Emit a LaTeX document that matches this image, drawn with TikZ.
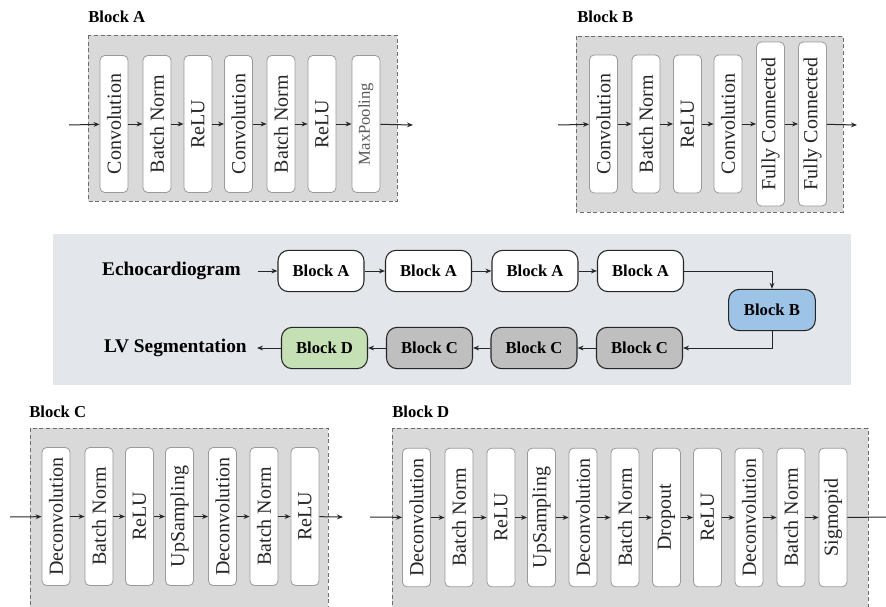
\documentclass[tikz,border=0pt]{standalone}
\usepackage{fontspec}
\setmainfont{Liberation Serif}
\usetikzlibrary{arrows.meta}
\definecolor{panel}{HTML}{E3E6EA}
\definecolor{dashfill}{HTML}{D9D9D9}
\definecolor{dashline}{HTML}{6E6E6E}
\definecolor{layerline}{HTML}{9A9A9A}
\definecolor{ink}{HTML}{262626}
\definecolor{blockB}{HTML}{9DC3E6}
\definecolor{blockC}{HTML}{BFBFBF}
\definecolor{blockD}{HTML}{C5E0B4}
\tikzset{
  arr/.style={draw=ink, line width=0.75pt, -{Stealth[length=4.5pt,width=3.6pt]}},
  dashbox/.style={fill=dashfill, draw=dashline, dashed, line width=0.7pt, dash pattern=on 3pt off 2pt},
  layer/.style={draw=layerline, fill=white, rounded corners=3.5pt, rotate=90,
    minimum height=21pt, inner sep=0pt, text=ink, line width=0.6pt,
    font=\fontsize{15}{15}\selectfont},
  title/.style={anchor=west, inner sep=0pt, font=\fontsize{12.5}{12.5}\selectfont\bfseries},
  flowblock/.style={draw=ink, line width=0.8pt, rounded corners=8pt, fill=white,
    minimum width=64.5pt, minimum height=31pt, inner sep=0pt,
    font=\fontsize{12.5}{12.5}\selectfont\bfseries},
  flowlabel/.style={anchor=east, inner sep=0pt, font=\fontsize{14.5}{14.5}\selectfont\bfseries},
}
\begin{document}
\begin{tikzpicture}[x=0.75pt, y=-0.75pt]
\useasboundingbox (0,0) rectangle (886,607);
\clip (0,0) rectangle (886,607);
\fill[white] (0,0) rectangle (886,607);

% ---------- Block A ----------
\node[title] (tA) at (88,17) {Block A};
\path[dashbox] (88,35) rectangle (397,201);
\foreach \n/\x/\t in {1/114/Convolution, 2/157/Batch Norm, 3/198/ReLU,
                      4/238.5/Convolution, 5/281/Batch Norm, 6/322/ReLU}
  \node[layer, minimum width=102.75pt] (a\n) at (\x,124) {\t};
\node[layer, minimum width=102.75pt, text=black!65, font=\fontsize{12.5}{12.5}\selectfont] (a7) at (366,124) {MaxPooling};
\coordinate (ain) at (69,125);
\coordinate (aout) at (413,125);
\draw[arr] (ain) -- (a1);
\foreach \i/\j in {1/2,2/3,3/4,4/5,5/6,6/7} \draw[arr] (a\i) -- (a\j);
\draw[arr] (a7) -- (aout);

% ---------- Block B ----------
\node[title] (tB) at (577,17) {Block B};
\path[dashbox] (576,36) rectangle (843,212);
\foreach \n/\x/\t in {1/603.5/Convolution, 2/646/Batch Norm, 3/687.5/ReLU, 4/728/Convolution}
  \node[layer, minimum width=103.5pt] (b\n) at (\x,124) {\t};
\foreach \n/\x in {5/770.5, 6/812.5}
  \node[layer, minimum width=123pt] (b\n) at (\x,124) {Fully Connected};
\coordinate (bin) at (558,125);
\coordinate (bout) at (857,125);
\draw[arr] (bin) -- (b1);
\foreach \i/\j in {1/2,2/3,3/4,4/5,5/6} \draw[arr] (b\i) -- (b\j);
\draw[arr] (b6) -- (bout);

% ---------- Overall pipeline ----------
\fill[panel] (53,234) rectangle (851,385);
\node[flowlabel] (echo) at (241,271) {Echocardiogram};
\node[flowblock] (m1) at (321,271) {Block A};
\node[flowblock] (m2) at (428.5,271) {Block A};
\node[flowblock] (m3) at (535,271) {Block A};
\node[flowblock] (m4) at (640.5,271) {Block A};
\node[flowblock, fill=blockB, minimum width=65pt] (mb) at (772,310) {Block B};
\node[flowblock, fill=blockC] (c3) at (639.5,348) {Block C};
\node[flowblock, fill=blockC] (c2) at (534,348) {Block C};
\node[flowblock, fill=blockC] (c1) at (429.5,348) {Block C};
\node[flowblock, fill=blockD] (md) at (324.5,348) {Block D};
\node[flowlabel] (lv) at (247,348) {LV Segmentation};
\coordinate (echoend) at (258,271);
\coordinate (lvend) at (257,348);
\draw[arr] (echoend) -- (m1);
\draw[arr] (m1) -- (m2);
\draw[arr] (m2) -- (m3);
\draw[arr] (m3) -- (m4);
\draw[arr] (m4.east) -| (mb.north);
\draw[arr] (mb.south) |- (c3.east);
\draw[arr] (c3) -- (c2);
\draw[arr] (c2) -- (c1);
\draw[arr] (c1) -- (md);
\draw[arr] (md) -- (lvend);

% ---------- Block C ----------
\node[title] (tC) at (29,412) {Block C};
\path[dashbox] (30,428) rectangle (328,640);
\foreach \n/\x/\t in {1/56/Deconvolution, 2/99/Batch Norm, 3/139.5/ReLU, 4/179.5/UpSampling,
                      5/222.5/Deconvolution, 6/264/Batch Norm, 7/305/ReLU}
  \node[layer, minimum width=103.5pt] (cc\n) at (\x,516.5) {\t};
\coordinate (cin) at (10,517);
\coordinate (cout) at (343,517);
\draw[arr] (cin) -- (cc1);
\foreach \i/\j in {1/2,2/3,3/4,4/5,5/6,6/7} \draw[arr] (cc\i) -- (cc\j);
\draw[arr] (cc7) -- (cout);

% ---------- Block D ----------
\node[title] (tD) at (392,412) {Block D};
\path[dashbox] (392,428) rectangle (868,640);
\foreach \n/\x/\t in {1/416.5/Deconvolution, 2/459/Batch Norm, 3/501/ReLU, 4/541.5/UpSampling,
                      5/583/Deconvolution, 6/625/Batch Norm, 7/666.5/Dropout, 8/707.5/ReLU,
                      9/749/Deconvolution, 10/791/Batch Norm, 11/833/Sigmopid}
  \node[layer, minimum width=104pt] (d\n) at (\x,517.5) {\t};
\coordinate (din) at (370,517);
\coordinate (dout) at (900,517);
\draw[arr] (din) -- (d1);
\foreach \i/\j in {1/2,2/3,3/4,4/5,5/6,6/7,7/8,8/9,9/10,10/11} \draw[arr] (d\i) -- (d\j);
\draw[arr] (d11) -- (dout);
\end{tikzpicture}
\end{document}
